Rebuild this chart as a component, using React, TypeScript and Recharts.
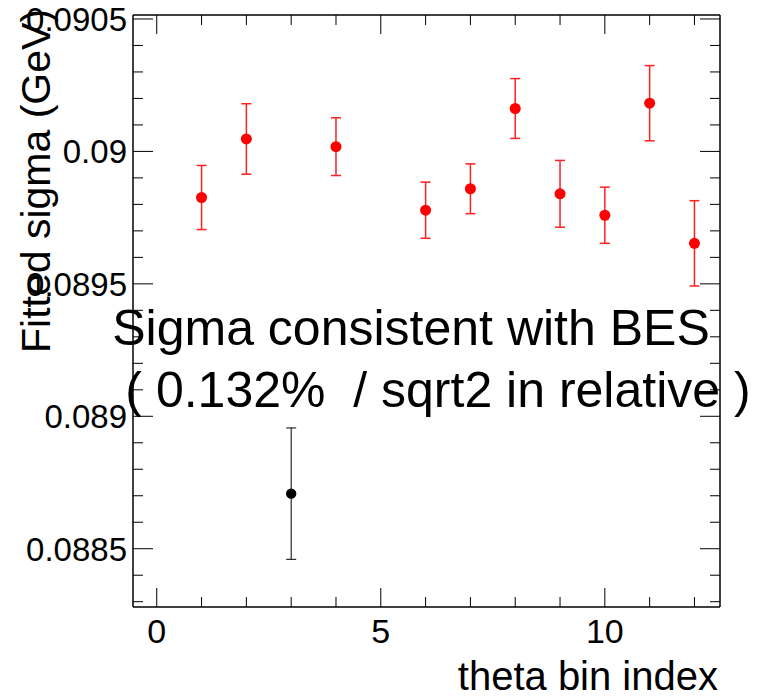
import React from "react";
import {
  ScatterChart,
  Scatter,
  XAxis,
  YAxis,
  ErrorBar,
} from "recharts";

// theta bins with a fitted sigma (GeV) and its error
const binIndex = [1, 2, 4, 6, 7, 8, 9, 10, 11, 12];
const sigmaValues = [
  0.089826, 0.090047, 0.090018, 0.089778, 0.089859, 0.090162, 0.08984,
  0.089759, 0.090182, 0.089653,
];
const sigmaErrors = [
  0.000121, 0.000133, 0.000109, 0.000106, 0.000094, 0.000113, 0.000126,
  0.000106, 0.000142, 0.000161,
];

// the single bin drawn in black
const outlierIndex = [3];
const outlierValues = [0.088708];
const outlierErrors = [0.000248];

const xTicks = [0, 1, 2, 3, 4, 5, 6, 7, 8, 9, 10, 11, 12];
const yTicks = [
  0.0883, 0.0884, 0.0885, 0.0886, 0.0887, 0.0888, 0.0889, 0.089, 0.0891,
  0.0892, 0.0893, 0.0894, 0.0895, 0.0896, 0.0897, 0.0898, 0.0899, 0.09,
  0.0901, 0.0902, 0.0903, 0.0904, 0.0905,
];
const yLabels = ["0.0885", "0.089", "0.0895", "0.09", "0.0905"];
const xLabels = ["0", "5", "10"];

const xDomain: [number, number] = [-0.53, 12.57];
const yDomain: [number, number] = [0.08828, 0.090515];

const FONT = "'Liberation Sans', Arial, Helvetica, sans-serif";

const redData = binIndex.map((x, i) => ({
  x,
  y: sigmaValues[i],
  err: sigmaErrors[i],
}));
const blackData = outlierIndex.map((x, i) => ({
  x,
  y: outlierValues[i],
  err: outlierErrors[i],
}));

const fmt = (v: number) => String(Number(v.toPrecision(6)));

const BottomTick = (props: any) => {
  const { x, y, payload } = props;
  const label = xLabels.includes(fmt(payload.value));
  const len = label ? 19 : 10;
  return (
    <g>
      <line x1={x} y1={y} x2={x} y2={y - len} stroke="#000" strokeWidth={1} />
      {label && (
        <text
          x={x}
          y={y + 36}
          textAnchor="middle"
          fontFamily={FONT}
          fontSize={34}
          fill="#000"
        >
          {fmt(payload.value)}
        </text>
      )}
    </g>
  );
};

const TopTick = (props: any) => {
  const { x, y, payload } = props;
  const len = xLabels.includes(fmt(payload.value)) ? 19 : 10;
  return <line x1={x} y1={y} x2={x} y2={y + len} stroke="#000" strokeWidth={1} />;
};

const LeftTick = (props: any) => {
  const { x, y, payload } = props;
  const label = yLabels.includes(fmt(payload.value));
  const len = label ? 20 : 10;
  return (
    <g>
      <line x1={x} y1={y} x2={x + len} y2={y} stroke="#000" strokeWidth={1} />
      {label && (
        <text
          x={x - 6}
          y={y}
          dy="0.36em"
          textAnchor="end"
          fontFamily={FONT}
          fontSize={33}
          fill="#000"
        >
          {fmt(payload.value)}
        </text>
      )}
    </g>
  );
};

const RightTick = (props: any) => {
  const { x, y, payload } = props;
  const len = yLabels.includes(fmt(payload.value)) ? 20 : 10;
  return <line x1={x} y1={y} x2={x - len} y2={y} stroke="#000" strokeWidth={1} />;
};

const dot = (color: string, r: number) => (props: any) =>
  <circle cx={props.cx} cy={props.cy} r={r} fill={color} />;

const noShape = () => <g />;

export default function App() {
  return (
    <div
      style={{
        position: "absolute",
        left: 0,
        top: 0,
        width: 758,
        height: 698,
        background: "#fff",
      }}
    >
      <ScatterChart
        width={758}
        height={698}
        margin={{ top: 14, right: 37, bottom: 0, left: 0 }}
      >
        <XAxis
          xAxisId="bottom"
          type="number"
          dataKey="x"
          domain={xDomain}
          allowDataOverflow
          ticks={xTicks}
          interval={0}
          height={91}
          tickSize={0}
          tickMargin={0}
          tickLine={false}
          tick={BottomTick}
          axisLine={{ stroke: "#000", strokeWidth: 1.5 }}
        />
        <XAxis
          xAxisId="top"
          orientation="top"
          type="number"
          dataKey="x"
          domain={xDomain}
          allowDataOverflow
          ticks={xTicks}
          interval={0}
          height={1}
          tickSize={0}
          tickMargin={0}
          tickLine={false}
          tick={TopTick}
          axisLine={{ stroke: "#000", strokeWidth: 1.5 }}
        />
        <YAxis
          yAxisId="left"
          type="number"
          dataKey="y"
          domain={yDomain}
          allowDataOverflow
          ticks={yTicks}
          interval={0}
          width={133}
          tickSize={0}
          tickMargin={0}
          tickLine={false}
          tick={LeftTick}
          axisLine={{ stroke: "#000", strokeWidth: 1.5 }}
        />
        <YAxis
          yAxisId="right"
          orientation="right"
          type="number"
          dataKey="y"
          domain={yDomain}
          allowDataOverflow
          ticks={yTicks}
          interval={0}
          width={1}
          tickSize={0}
          tickMargin={0}
          tickLine={false}
          tick={RightTick}
          axisLine={{ stroke: "#000", strokeWidth: 1.5 }}
        />
        {/* invisible series so the top and right frame axes get drawn */}
        <Scatter
          data={redData}
          dataKey="y"
          xAxisId="top"
          yAxisId="right"
          shape={noShape}
          legendType="none"
          isAnimationActive={false}
        />
        <Scatter
          data={redData}
          dataKey="y"
          xAxisId="bottom"
          yAxisId="left"
          fill="#ff0000"
          shape={dot("#ff0000", 5.5)}
          isAnimationActive={false}
        >
          <ErrorBar
            dataKey="err"
            direction="y"
            width={5}
            stroke="#ff2020"
            strokeWidth={1.5}
            isAnimationActive={false}
          />
        </Scatter>
        <Scatter
          data={blackData}
          dataKey="y"
          xAxisId="bottom"
          yAxisId="left"
          fill="#000"
          shape={dot("#000", 5.2)}
          isAnimationActive={false}
        >
          <ErrorBar
            dataKey="err"
            direction="y"
            width={5}
            stroke="#000"
            strokeWidth={1}
            isAnimationActive={false}
          />
        </Scatter>
      </ScatterChart>
      <svg
        width={758}
        height={698}
        style={{ position: "absolute", left: 0, top: 0, pointerEvents: "none" }}
        fontFamily={FONT}
      >
        <text x={50} y={353} transform="rotate(-90 50 353)" fontSize={41} fill="#000">
          Fitted sigma (GeV)
        </text>
        <text x={718} y={690} textAnchor="end" fontSize={40} fill="#000">
          theta bin index
        </text>
        <text x={411} y={345} textAnchor="middle" fontSize={50} fill="#000">
          Sigma consistent with BES
        </text>
        <text
          x={438}
          y={407}
          textAnchor="middle"
          fontSize={50}
          fill="#000"
          style={{ whiteSpace: "pre" }}
        >
          {"( 0.132%  / sqrt2 in relative )"}
        </text>
      </svg>
    </div>
  );
}
